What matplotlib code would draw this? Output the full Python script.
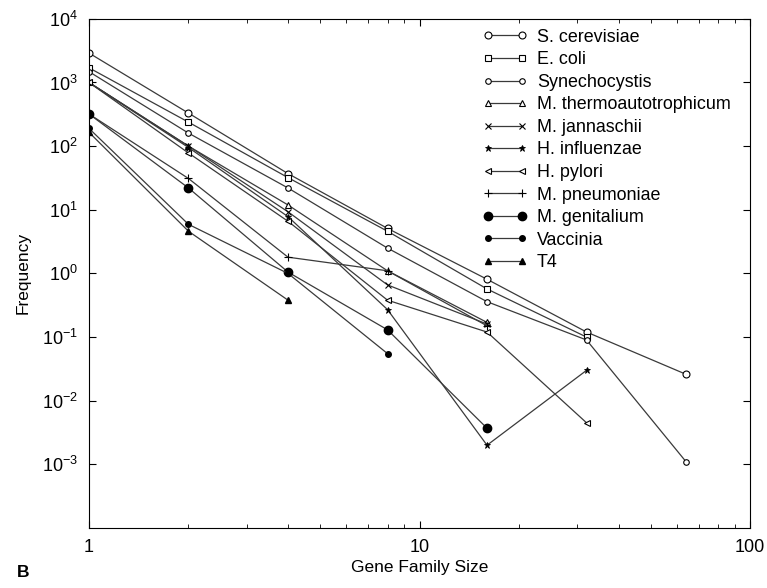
import matplotlib
matplotlib.use("Agg")
import matplotlib.pyplot as plt
from matplotlib.ticker import LogLocator, NullFormatter, FixedLocator, FixedFormatter

plt.rcParams['font.family'] = ['Liberation Sans', 'DejaVu Sans']
plt.rcParams['mathtext.fontset'] = 'custom'
plt.rcParams['mathtext.rm'] = 'Liberation Sans'
plt.rcParams['mathtext.it'] = 'Liberation Sans'

# gene family size -> frequency
s_cer_x = [1, 2, 4, 8, 16, 32, 64]
s_cer_y = [2900, 330, 37, 5.1, 0.81, 0.12, 0.026]
e_coli_x = [1, 2, 4, 8, 16, 32]
e_coli_y = [1700, 238, 32, 4.6, 0.57, 0.1]
synecho_x = [1, 2, 4, 8, 16, 32, 64]
synecho_y = [1480, 160, 22, 2.5, 0.36, 0.09, 0.0011]
m_thermo_x = [1, 2, 4, 8, 16]
m_thermo_y = [1000, 100, 11.9, 1.1, 0.17]
m_jann_x = [1, 2, 4, 8, 16]
m_jann_y = [1000, 100, 9.3, 0.66, 0.16]
h_infl_x = [1, 2, 4, 8, 16, 32]
h_infl_y = [1000, 95, 7.8, 0.27, 0.002, 0.03]
h_pylori_x = [1, 2, 4, 8, 16, 32]
h_pylori_y = [1000, 78, 6.6, 0.38, 0.12, 0.0045]
m_pneu_x = [1, 2, 4, 8, 16]
m_pneu_y = [320, 31, 1.8, 1.1, 0.15]
m_gen_x = [1, 2, 4, 8, 16]
m_gen_y = [320, 22, 1.05, 0.13, 0.0037]
vacc_x = [1, 2, 4, 8]
vacc_y = [190, 5.9, 1.0, 0.055]
t4_x = [1, 2, 4]
t4_y = [165, 4.6, 0.38]

fig = plt.figure(figsize=(7.67, 5.88), dpi=100)
ax = fig.add_axes([0.116, 0.102, 0.862, 0.866])

lc = '#3a3a3a'
kw = dict(color=lc, lw=0.9, mec='black')
ax.plot(s_cer_x, s_cer_y, marker='o', ms=5, mfc='white', mew=0.8, label='S. cerevisiae', **kw)
ax.plot(e_coli_x, e_coli_y, marker='s', ms=4.5, mfc='white', mew=0.8, label='E. coli', **kw)
ax.plot(synecho_x, synecho_y, marker='o', ms=4, mfc='white', mew=0.8, label='Synechocystis', **kw)
ax.plot(m_thermo_x, m_thermo_y, marker='^', ms=5, mfc='white', mew=0.8, label='M. thermoautotrophicum', **kw)
ax.plot(m_jann_x, m_jann_y, marker='x', ms=4, mew=0.8, label='M. jannaschii', **kw)
ax.plot(h_infl_x, h_infl_y, marker='*', ms=5, mfc='black', mew=0.6, label='H. influenzae', **kw)
ax.plot(h_pylori_x, h_pylori_y, marker='<', ms=5, mfc='white', mew=0.8, label='H. pylori', **kw)
ax.plot(m_pneu_x, m_pneu_y, marker='+', ms=6, mew=0.8, label='M. pneumoniae', **kw)
ax.plot(m_gen_x, m_gen_y, marker='o', ms=6, mfc='black', label='M. genitalium', **kw)
ax.plot(vacc_x, vacc_y, marker='o', ms=4, mfc='black', label='Vaccinia', **kw)
ax.plot(t4_x, t4_y, marker='^', ms=5, mfc='black', label='T4', **kw)

ax.set_xscale('log')
ax.set_yscale('log')
ax.set_xlim(1, 100)
ax.set_ylim(1e-4, 1e4)

ax.xaxis.set_major_locator(FixedLocator([1, 10, 100]))
ax.xaxis.set_major_formatter(FixedFormatter(['1', '10', '100']))
ax.xaxis.set_minor_locator(LogLocator(base=10, subs=range(2, 10)))
ax.xaxis.set_minor_formatter(NullFormatter())
yt = [1e-3, 1e-2, 1e-1, 1, 10, 100, 1e3, 1e4]
ax.yaxis.set_major_locator(FixedLocator(yt))
ax.yaxis.set_major_formatter(FixedFormatter([r'$10^{%d}$' % e for e in range(-3, 5)]))
ax.yaxis.set_minor_locator(FixedLocator([]))
ax.tick_params(which='both', direction='in', top=True, right=True, labelsize=13, pad=8)
ax.tick_params(which='major', length=5, width=0.8)
ax.tick_params(which='minor', length=3, width=0.6)
for s in ax.spines.values():
    s.set_linewidth(0.8)

ax.set_xlabel('Gene Family Size', fontsize=12.5, labelpad=3)
ax.set_ylabel('Frequency', fontsize=12.5, labelpad=8)

ax.legend(loc='upper left', bbox_to_anchor=(0.58, 1.0), frameon=False, fontsize=12.9,
          numpoints=2, handlelength=2.5, handletextpad=0.55, labelspacing=0.31, borderaxespad=0.15)

fig.text(0.022, 0.018, 'B', fontsize=12.5, fontweight='bold')

fig.savefig('out.png', dpi=100)
